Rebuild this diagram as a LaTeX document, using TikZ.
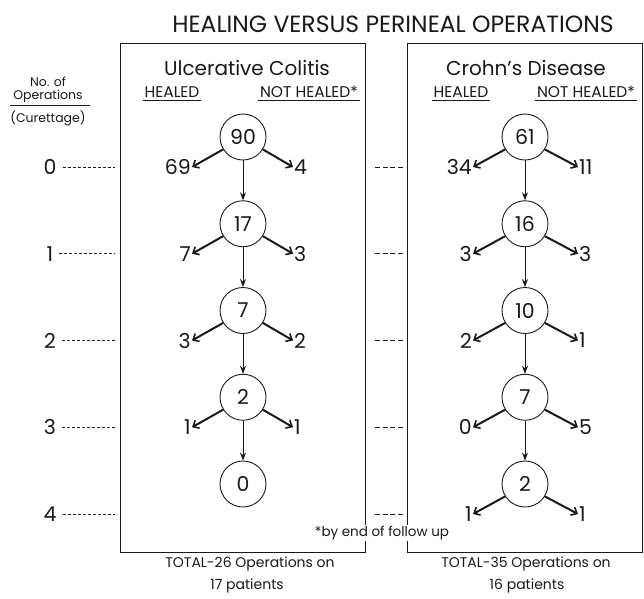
\documentclass[tikz,border=0pt]{standalone}
\usepackage{fontspec}
\setmainfont{Poppins}
\usetikzlibrary{arrows.meta,positioning}
\definecolor{inkcol}{RGB}{25,25,25}

\begin{document}
\begin{tikzpicture}[x=1pt,y=-1pt,inkcol,
		opnode/.style={circle,draw=inkcol,line width=0.9pt,minimum size=46pt,inner sep=0pt,font=\fontsize{20.5}{20}\selectfont},
		outcome/.style={inner sep=1pt,font=\fontsize{20.5}{20}\selectfont},
		hdr/.style={inner sep=1.5pt,font=\fontsize{15.5}{16}\selectfont},
		foot/.style={inner sep=1pt,font=\fontsize{14}{14}\selectfont},
		nextop/.style={-{Stealth[length=8pt,width=6pt]},line width=0.9pt},
		outarrow/.style={-{Straight Barb[length=5pt,width=9pt,line width=1.6pt]},line width=2pt},
		lvlline/.style={dash pattern=on 3pt off 2pt,line width=0.7pt}]

	\useasboundingbox (0,0) rectangle (644,598);

	% --- Parameters ---
	\def\ucX{243}       % axis of the colitis tree
	\def\cdX{525}       % axis of the Crohn's tree
	\def\rowTop{167}    % row of "0 operations"
	\def\rowGap{86.75}

	% =============================================
	%  TITLE AND BOXES
	% =============================================

	\node[font=\fontsize{23.5}{24}\selectfont] (title) at (393,24) {HEALING VERSUS PERINEAL OPERATIONS};

	\node[draw,line width=0.8pt,minimum width=245pt,minimum height=509pt,inner sep=0pt] (ucBox) at (242.5,297.5) {};
	\node[draw,line width=0.8pt,minimum width=235pt,minimum height=509pt,inner sep=0pt] (cdBox) at (524.5,297.5) {};

	% --- Headers ---
	\node[font=\fontsize{20}{20}\selectfont] (ucName) at (\ucX+4,68) {Ulcerative Colitis};
	\node[font=\fontsize{20}{20}\selectfont] (cdName) at (\cdX+1,68) {Crohn's Disease};

	\node[hdr] (ucHeal) at (\ucX-71,92) {HEALED};
	\node[hdr] (ucNot) at (\ucX+66,92) {NOT HEALED*};
	\node[hdr] (cdHeal) at (\cdX-64,92) {HEALED};
	\node[hdr] (cdNot) at (\cdX+61,92) {NOT HEALED*};
	\foreach \n in {ucHeal,ucNot,cdHeal,cdNot}
	\draw[line width=0.7pt] ([yshift=-1pt]\n.south west) -- ([yshift=-1pt]\n.south east);

	% --- Left axis header ---
	\node[foot,font=\fontsize{12.5}{13}\selectfont] (noOf) at (48,82) {No. of};
	\node[foot,font=\fontsize{12.5}{13}\selectfont] (opsLbl) at (48,96) {Operations};
	\node[foot,font=\fontsize{12.5}{13}\selectfont] (curLbl) at (48,118) {(Curettage)};
	\draw[line width=0.7pt] ([xshift=-2pt,yshift=-2pt]opsLbl.south west) -- ([xshift=6pt,yshift=-2pt]opsLbl.south east);

	% =============================================
	%  LEVEL LINES
	% =============================================

	\foreach \i in {0,...,4} {
			\pgfmathsetmacro{\yy}{\rowTop + \i*\rowGap}
			\node[outcome] (lv\i) at (50,\yy) {\i};
			\coordinate (lvEnd\i) at (lv\i.east -| ucBox.west);
			\coordinate (gapA\i) at (lv\i.east -| ucBox.east);
			\coordinate (gapB\i) at (lv\i.east -| cdBox.west);
			\draw[lvlline,shorten <=5pt,shorten >=5pt] (lv\i.east) -- (lvEnd\i);
			\draw[lvlline,dash pattern=on 5pt off 2.5pt,shorten <=10pt,shorten >=3pt] (gapA\i) -- (gapB\i);
		}

	% =============================================
	%  ULCERATIVE COLITIS TREE
	% =============================================

	\foreach \v [count=\i from 0] in {90,17,7,2,0} {
			\pgfmathsetmacro{\yy}{\rowTop + \i*\rowGap - 30}
			\node[opnode] (uc\i) at (\ucX,\yy) {\v};
		}
	\foreach \i [evaluate=\i as \j using int(\i+1)] in {0,...,3}
	\draw[nextop] (uc\i) -- (uc\j);

	\foreach \h/\n [count=\i from 0] in {69/4,7/3,3/2,1/1} {
			\pgfmathsetmacro{\yy}{\rowTop + \i*\rowGap}
			\node[outcome,anchor=east] (ucH\i) at (\ucX-51,\yy) {\h};
			\node[outcome,anchor=west] (ucN\i) at (\ucX+50,\yy) {\n};
			\draw[outarrow] (uc\i.-148) -- (ucH\i.east);
			\draw[outarrow] (uc\i.-32) -- (ucN\i.west);
		}

	% =============================================
	%  CROHN'S DISEASE TREE
	% =============================================

	\foreach \v [count=\i from 0] in {61,16,10,7,2} {
			\pgfmathsetmacro{\yy}{\rowTop + \i*\rowGap - 30}
			\node[opnode] (cd\i) at (\cdX,\yy) {\v};
		}
	\foreach \i [evaluate=\i as \j using int(\i+1)] in {0,...,3}
	\draw[nextop] (cd\i) -- (cd\j);

	\foreach \h/\n [count=\i from 0] in {34/11,3/3,2/1,0/5,1/1} {
			\pgfmathsetmacro{\yy}{\rowTop + \i*\rowGap}
			\node[outcome,anchor=east] (cdH\i) at (\cdX-52,\yy) {\h};
			\node[outcome,anchor=west] (cdN\i) at (\cdX+53,\yy) {\n};
			\draw[outarrow] (cd\i.-148) -- (cdH\i.east);
			\draw[outarrow] (cd\i.-32) -- (cdN\i.west);
		}

	% =============================================
	%  FOOTNOTE AND TOTALS
	% =============================================

	\node[fill=white,inner sep=1pt,font=\fontsize{13.5}{13}\selectfont] (fnote) at (382,533) {*by end of follow up};

	\node[foot] (ucTot) at (250,564) {TOTAL-26 Operations on};
	\node[foot] (ucPat) at (247,586) {17 patients};
	\node[foot] (cdTot) at (526,564) {TOTAL-35 Operations on};
	\node[foot] (cdPat) at (527,586) {16 patients};

\end{tikzpicture}
\end{document}
